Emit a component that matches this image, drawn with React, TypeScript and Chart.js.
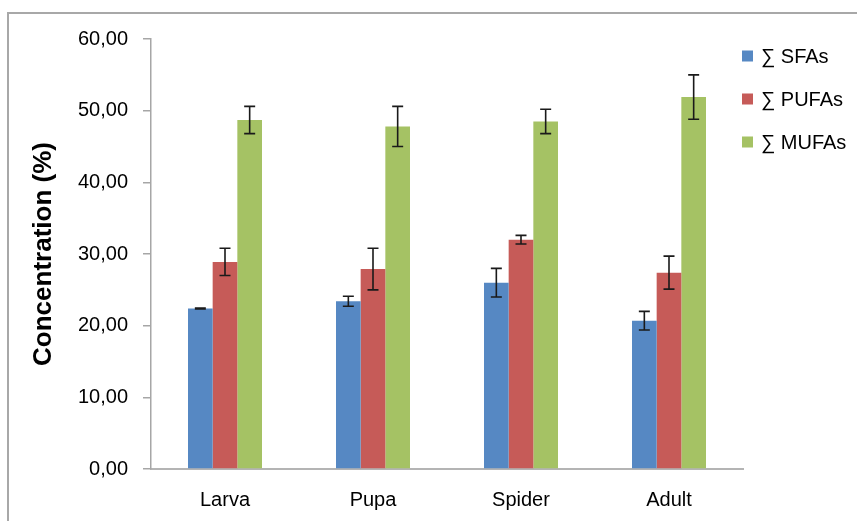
import React, { useEffect, useRef } from "react";
import { Chart, registerables } from "chart.js";

Chart.register(...registerables);

const categories = ["Larva", "Pupa", "Spider", "Adult"];
const seriesLabels = ["∑ SFAs", "∑ PUFAs", "∑ MUFAs"];
const sfaValues = [22.4, 23.4, 26.0, 20.7];
const sfaErrors = [0.05, 0.7, 2.0, 1.3];
const pufaValues = [28.9, 27.9, 32.0, 27.4];
const pufaErrors = [1.9, 2.9, 0.6, 2.3];
const mufaValues = [48.7, 47.8, 48.5, 51.9];
const mufaErrors = [1.9, 2.8, 1.7, 3.1];
const yTicks = [0, 10, 20, 30, 40, 50, 60];
const yTitle = "Concentration (%)";

const colors = ["#5688c3", "#c65b58", "#a5c264"];
const FONT = "'Liberation Sans', Arial, sans-serif";

const errorBarPlugin = {
  id: "errorBars",
  afterDatasetsDraw(chart: any) {
    const ctx = chart.ctx;
    const yScale = chart.scales.y;
    ctx.save();
    ctx.strokeStyle = "#1a1a1a";
    ctx.lineWidth = 1.6;
    chart.data.datasets.forEach((ds: any, i: number) => {
      const meta = chart.getDatasetMeta(i);
      meta.data.forEach((bar: any, j: number) => {
        const v = ds.data[j];
        const e = ds.errors[j];
        const x = bar.x;
        const yTop = yScale.getPixelForValue(v + e);
        const yBot = yScale.getPixelForValue(v - e);
        const cap = 5.5;
        ctx.beginPath();
        ctx.moveTo(x, yTop);
        ctx.lineTo(x, yBot);
        ctx.moveTo(x - cap, yTop);
        ctx.lineTo(x + cap, yTop);
        ctx.moveTo(x - cap, yBot);
        ctx.lineTo(x + cap, yBot);
        ctx.stroke();
      });
    });
    ctx.restore();
  },
};

const legendPlugin = {
  id: "sideLegend",
  afterDraw(chart: any) {
    const ctx = chart.ctx;
    const area = chart.chartArea;
    ctx.save();
    ctx.font = `20px ${FONT}`;
    ctx.textBaseline = "middle";
    ctx.textAlign = "left";
    chart.data.datasets.forEach((ds: any, i: number) => {
      const cy = area.top + 17 + i * 43;
      const x = area.right - 1;
      ctx.fillStyle = ds.backgroundColor;
      ctx.fillRect(x, cy - 5.5, 11, 11);
      ctx.fillStyle = "#000";
      ctx.fillText(ds.label, x + 19, cy + 1);
    });
    ctx.restore();
  },
};

export default function App() {
  const ref = useRef<HTMLCanvasElement>(null);

  useEffect(() => {
    document.body.style.margin = "0";
    if (!ref.current) return;
    const values = [sfaValues, pufaValues, mufaValues];
    const errors = [sfaErrors, pufaErrors, mufaErrors];
    const chart = new Chart(ref.current, {
      type: "bar",
      data: {
        labels: categories,
        datasets: seriesLabels.map((label, i) => ({
          label,
          data: values[i],
          errors: errors[i],
          backgroundColor: colors[i],
          borderWidth: 0,
          categoryPercentage: 0.5,
          barPercentage: 1.0,
        })) as any,
      },
      options: {
        animation: false,
        responsive: false,
        devicePixelRatio: 1,
        layout: { padding: { left: 0, top: 39, right: 114, bottom: 0 } },
        plugins: {
          legend: { display: false },
          tooltip: { enabled: false },
        },
        scales: {
          x: {
            grid: { display: false, drawTicks: false },
            border: { display: true, color: "#b4b4b4", width: 2 },
            ticks: {
              color: "#000",
              font: { family: FONT, size: 20 },
              padding: 19,
            },
            afterFit(scale: any) {
              scale.height = 52;
            },
          },
          y: {
            min: 0,
            max: 60,
            afterBuildTicks(scale: any) {
              scale.ticks = yTicks.map((v) => ({ value: v }));
            },
            grid: {
              drawOnChartArea: false,
              drawTicks: true,
              tickLength: 8,
              color: "#a6a6a6",
              lineWidth: 1.5,
            },
            border: { display: true, color: "#a6a6a6", width: 1.5 },
            ticks: {
              color: "#000",
              font: { family: FONT, size: 20 },
              padding: 15,
              callback: (v: any) => Number(v).toFixed(2).replace(".", ","),
            },
            title: {
              display: true,
              text: yTitle,
              color: "#000",
              font: { family: FONT, size: 26, weight: "bold" },
              padding: { top: 28, bottom: 0 },
            },
            afterFit(scale: any) {
              scale.width = 151;
            },
          },
        },
      } as any,
      plugins: [errorBarPlugin, legendPlugin],
    });
    return () => chart.destroy();
  }, []);

  return (
    <div style={{ position: "relative", width: 857, height: 521, background: "#fff" }}>
      <canvas ref={ref} width={857} height={521} style={{ display: "block" }} />
      <div
        style={{
          position: "absolute",
          left: 7,
          top: 12,
          right: 0,
          bottom: 0,
          borderLeft: "2px solid #a8a8a8",
          borderTop: "2px solid #a8a8a8",
          pointerEvents: "none",
        }}
      />
    </div>
  );
}
